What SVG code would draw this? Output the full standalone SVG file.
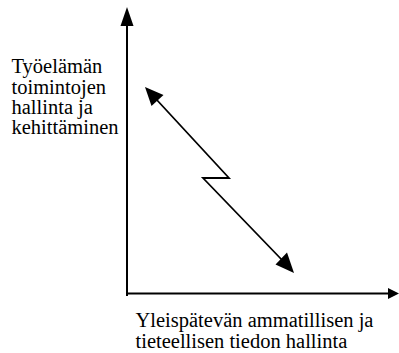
<svg xmlns="http://www.w3.org/2000/svg" width="399" height="353" viewBox="0 0 399 353">
<style>
.ax{stroke:#000;stroke-width:2;fill:none}
.dg{stroke:#000;stroke-width:1.8;fill:none;stroke-linejoin:miter}
.hd{fill:#000;stroke:none}
.t{font-family:"Liberation Serif","Times New Roman",Times,serif;font-size:20.5px;fill:#000}
</style>
<rect width="399" height="353" fill="#fff"/>
<g id="connectors">
<line class="ax" x1="127" y1="24" x2="127" y2="296"/>
<polygon class="hd" points="127,7 120.5,26 133.5,26"/>
<line class="ax" x1="126" y1="293.5" x2="390" y2="293.5"/>
<polygon class="hd" points="399,293.5 388,288 388,299"/>
<polyline class="dg" points="156,99 229,178 203,178 283,261"/>
<polygon class="hd" points="145,87 151.5,106 163.5,95"/>
<polygon class="hd" points="294,273 275.5,264.5 287,252.5"/>
</g>
<g id="label-y">
<text class="t" x="11.5" y="73">Työelämän</text>
<text class="t" x="11.5" y="93.5">toimintojen</text>
<text class="t" x="11.5" y="114">hallinta ja</text>
<text class="t" x="11.5" y="134">kehittäminen</text>
</g>
<g id="label-x">
<text class="t" x="135.5" y="326.7">Yleispätevän ammatillisen ja</text>
<text class="t" x="135.5" y="347.5">tieteellisen tiedon hallinta</text>
</g>
</svg>
